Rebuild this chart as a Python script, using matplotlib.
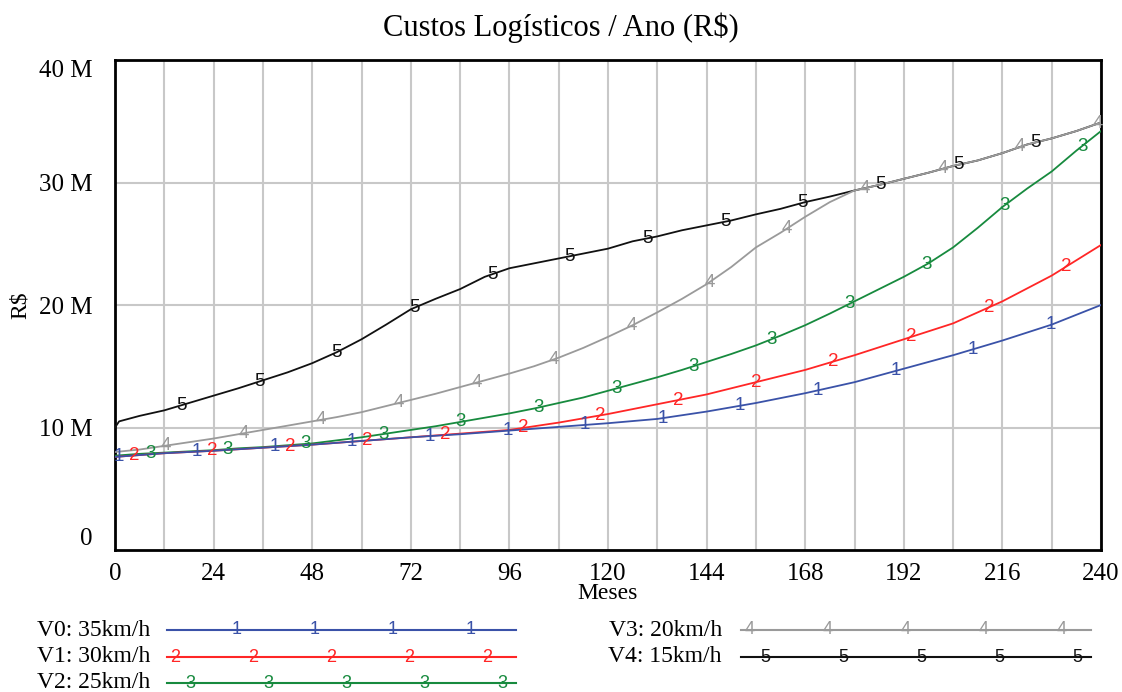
import numpy as np
import matplotlib
matplotlib.use("Agg")
import matplotlib.pyplot as plt

months_12 = [0, 12, 24, 36, 48, 60, 72, 84, 96, 108, 120, 132, 144, 156, 168, 180, 192, 204, 216, 228, 240]
months_6 = list(range(0, 241, 6))
months_black = [0, 1] + list(range(6, 241, 6))

# Custos logisticos (milhoes R$) por velocidade
v0_35 = [7.6, 7.9, 8.1, 8.35, 8.6, 8.9, 9.2, 9.45, 9.75, 10.05, 10.35, 10.7, 11.3, 12.0, 12.8, 13.7, 14.8, 15.9, 17.1, 18.4, 20.0]
v1_30 = [7.6, 7.9, 8.1, 8.35, 8.6, 8.9, 9.2, 9.5, 9.8, 10.4, 11.1, 11.9, 12.7, 13.7, 14.7, 15.9, 17.2, 18.5, 20.3, 22.4, 24.9]
v2_25 = [7.7, 7.85, 7.95, 8.05, 8.15, 8.3, 8.4, 8.55, 8.7, 8.95, 9.2, 9.5, 9.8, 10.1, 10.45, 10.8,
         11.15, 11.55, 12.0, 12.45, 13.0, 13.55, 14.1, 14.7, 15.35, 16.0, 16.7, 17.5, 18.35, 19.3,
         20.3, 21.3, 22.3, 23.4, 24.7, 26.3, 28.0, 29.5, 30.9, 32.6, 34.2]
v3_20 = [8.0, 8.2, 8.5, 8.8, 9.1, 9.45, 9.8, 10.15, 10.5, 10.85, 11.25, 11.75, 12.25, 12.75, 13.3, 13.85,
         14.4, 15.0, 15.7, 16.5, 17.4, 18.35, 19.4, 20.5, 21.7, 23.1, 24.7, 25.9, 27.2, 28.4,
         29.35, 29.8, 30.3, 30.8, 31.35, 31.8, 32.4, 33.1, 33.6, 34.2, 34.9]
v4_15 = [10.0, 10.5, 10.95, 11.4, 12.0, 12.6, 13.2, 13.85, 14.5, 15.25, 16.15, 17.2, 18.4, 19.65, 20.5, 21.3,
         22.3, 23.0, 23.4, 23.8, 24.2, 24.6, 25.2, 25.6, 26.1, 26.5, 26.9, 27.4, 27.85, 28.4,
         28.85, 29.35, 29.8, 30.3, 30.8, 31.35, 31.8, 32.4, 33.1, 33.6, 34.2, 34.9]

labels = ["V0: 35km/h", "V1: 30km/h", "V2: 25km/h", "V3: 20km/h", "V4: 15km/h"]
series = [v0_35, v1_30, v2_25, v3_20, v4_15]
xs = [months_12, months_12, months_6, months_6, months_black]
colors = ["#3a52a8", "#ff2626", "#178a3e", "#9a9a9a", "#111111"]

serif = ["Liberation Serif", "DejaVu Serif"]
sans = ["Liberation Sans", "DejaVu Sans"]

fig = plt.figure(figsize=(11.22, 6.92), dpi=100)
ax = fig.add_axes([115 / 1122, 1 - 550 / 692, 986 / 1122, 490 / 692])

# draw last series first so V0 ends on top, like the original
for k in range(4, -1, -1):
    y = np.array(series[k])
    ax.plot(xs[k], y, color=colors[k], lw=1.3, zorder=3 + (4 - k))
    # digit markers along the line
    mk = np.arange(1 + 3.8 * k, 241, 18.9)
    my = np.interp(mk, xs[k], y)
    for xm, ym in zip(mk, my):
        ax.text(xm, ym, str(k + 1), color=colors[k], fontsize=13.5, family=sans,
                ha="center", va="center", zorder=10)

ax.set_xlim(0, 240)
ax.set_ylim(0, 40)
ax.set_xticks(range(0, 241, 24))
ax.set_xticks(range(0, 241, 12), minor=True)
ax.set_yticks([0, 10, 20, 30, 40])
ax.set_yticklabels(["0", "10 M", "20 M", "30 M", "40 M"])
ax.grid(True, which="both", axis="x", color="#c8c8c8", lw=1.5, zorder=1)
for v in [10, 20, 30]:
    ax.axhline(v, color="#c8c8c8", lw=1.5, zorder=1)
ax.tick_params(which="both", length=0)
ax.tick_params(axis="x", pad=9, labelsize=18)
ax.tick_params(axis="y", pad=16, labelsize=18)
for t in ax.get_xticklabels() + ax.get_yticklabels():
    t.set_family(serif)
ylabs = ax.get_yticklabels()
ylabs[0].set_va("bottom")
ylabs[-1].set_va("top")
for s in ax.spines.values():
    s.set_linewidth(2)
    s.set_color("black")

ax.set_xlabel("Meses", fontsize=17, family=serif, labelpad=-1)
ax.set_ylabel("R$", fontsize=17, family=serif, labelpad=6)
fig.text(0.5, 1 - 28 / 692, "Custos Logísticos / Ano (R$)", fontsize=22,
         family=serif, ha="center", va="center")

# legend drawn below the chart, in pixel units
leg = fig.add_axes([0, 0, 1, 1], zorder=-1)
leg.set_xlim(0, 1122)
leg.set_ylim(692, 0)
leg.axis("off")
rows = [(150, 167, 516, 630), (150, 167, 516, 657), (150, 167, 516, 683),
        (722, 741, 1091, 630), (722, 741, 1091, 657)]
starts = [237, 175, 190, 750, 765]
counts = [4, 5, 5, 5, 5]
for k, (tx, x0, x1, yy) in enumerate(rows):
    leg.text(tx, yy, labels[k], fontsize=17, family=serif, ha="right", va="center")
    leg.plot([x0, x1], [yy, yy], color=colors[k], lw=1.5)
    for j in range(counts[k]):
        leg.text(starts[k] + 78 * j, yy, str(k + 1), color=colors[k], fontsize=13,
                 family=sans, ha="center", va="center")

fig.savefig("out.png", dpi=100)
